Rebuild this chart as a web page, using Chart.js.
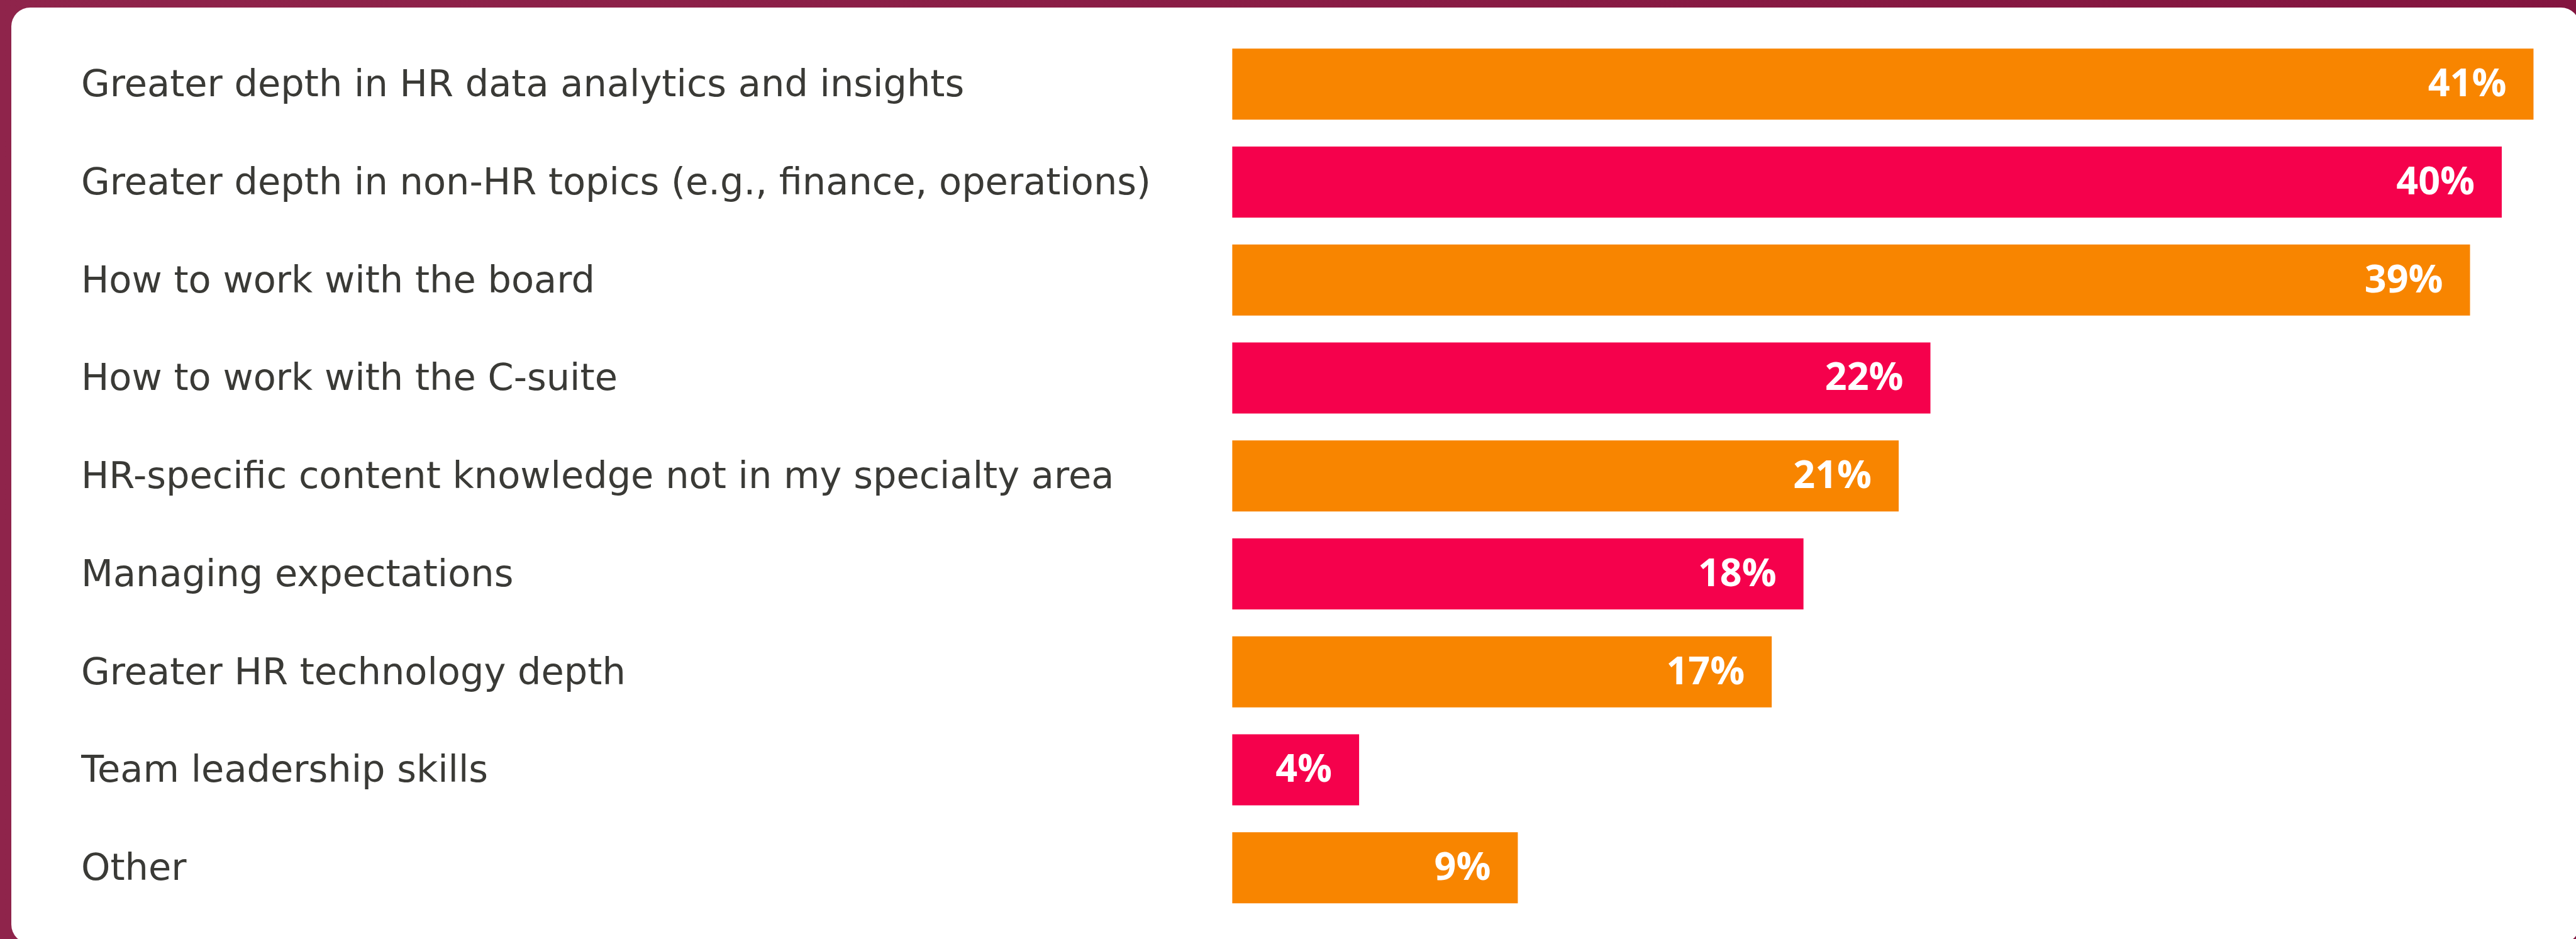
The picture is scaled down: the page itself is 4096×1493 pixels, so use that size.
<!DOCTYPE html>
<html lang="en">
<head>
  <meta charset="UTF-8">
  <title>HR development needs</title>
  <script src="https://cdn.jsdelivr.net/npm/chart.js"></script>
  <style>
    html, body {
      margin: 0;
      padding: 0;
      width: 4096px;
      height: 1493px;
      overflow: hidden;
      background: linear-gradient(90deg, #8f244b, #83153f);
    }
    .card {
      position: absolute;
      left: 18px;
      top: 11.5px;
      width: 4084px;
      height: 1488px;
      border-radius: 30px;
      background: #ffffff;
    }
    canvas {
      position: absolute;
      left: 0;
      top: 0;
    }
  </style>
</head>
<body>
  <div class="card"></div>
  <canvas id="chart" width="4096" height="1493"></canvas>

  <script>
    const categories = [
      'Greater depth in HR data analytics and insights',
      'Greater depth in non-HR topics (e.g., finance, operations)',
      'How to work with the board',
      'How to work with the C-suite',
      'HR-specific content knowledge not in my specialty area',
      'Managing expectations',
      'Greater HR technology depth',
      'Team leadership skills',
      'Other'
    ];
    const values = [41, 40, 39, 22, 21, 18, 17, 4, 9];
    const barColors = ['#f88500', '#f5014c', '#f88500', '#f5014c', '#f88500', '#f5014c', '#f88500', '#f5014c', '#f88500'];

    // value labels inside the bar end
    const valueLabels = {
      id: 'valueLabels',
      afterDatasetsDraw(chart) {
        const ctx = chart.ctx;
        const meta = chart.getDatasetMeta(0);
        ctx.save();
        ctx.fillStyle = '#ffffff';
        ctx.font = '700 61px "Open Sans"';
        ctx.textAlign = 'right';
        ctx.textBaseline = 'middle';
        meta.data.forEach((bar, i) => {
          ctx.fillText(values[i] + '%', bar.x - 43, bar.y + 2);
        });
        ctx.restore();
      }
    };

    new Chart(document.getElementById('chart'), {
      type: 'bar',
      data: {
        labels: categories,
        datasets: [{
          data: values,
          backgroundColor: barColors,
          borderWidth: 0,
          categoryPercentage: 1,
          barPercentage: 0.7254
        }]
      },
      options: {
        indexAxis: 'y',
        responsive: false,
        animation: false,
        devicePixelRatio: 1,
        layout: {
          padding: { left: 129, right: 17.1, top: 55.9, bottom: 27.5 }
        },
        plugins: {
          legend: { display: false },
          tooltip: { enabled: false }
        },
        scales: {
          x: {
            display: false,
            min: 0,
            max: 42
          },
          y: {
            grid: { display: false },
            border: { display: false },
            afterFit(scale) { scale.width = 1830.2; },
            ticks: {
              crossAlign: 'far',
              padding: 0,
              labelOffset: 4,
              color: '#3a3a36',
              font: { family: '"DejaVu Sans"', size: 59, weight: 'normal' }
            }
          }
        }
      },
      plugins: [valueLabels]
    });
  </script>
</body>
</html>
